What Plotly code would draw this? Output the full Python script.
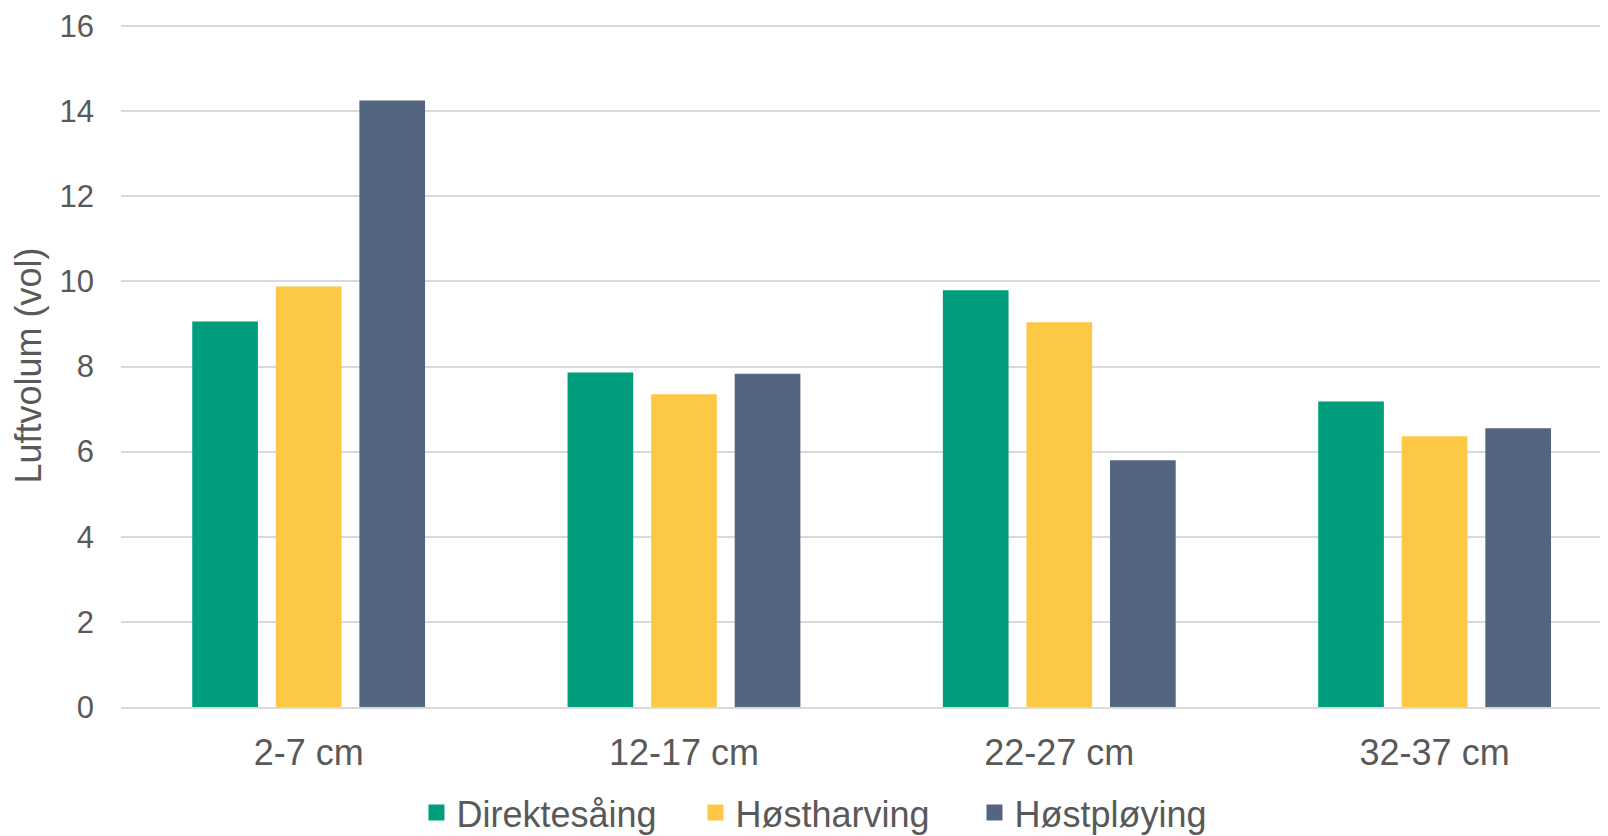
import plotly.graph_objects as go

categories = ["2-7 cm", "12-17 cm", "22-27 cm", "32-37 cm"]
series_names = ["Direktesåing", "Høstharving", "Høstpløying"]
direktesaing = [9.06, 7.86, 9.79, 7.18]
hostharving = [9.88, 7.35, 9.04, 6.36]
hostploying = [14.25, 7.83, 5.80, 6.55]
y_ticks = [0, 2, 4, 6, 8, 10, 12, 14, 16]
colors = ["#009E7D", "#FDC844", "#546580"]

# page body has an 8px default margin, so the figure is 8px smaller
W, H = 1600, 828
left, right, top, bottom = 113, 0, 16, 129

fig = go.Figure()
for name, vals, c in zip(series_names, [direktesaing, hostharving, hostploying], colors):
    fig.add_trace(go.Bar(x=categories, y=vals, name=name, showlegend=False,
                         marker=dict(color=c, line=dict(width=0))))
# legend entries with larger square swatches
for name, c in zip(series_names, colors):
    fig.add_trace(go.Scatter(x=[None], y=[None], mode="markers", name=name,
                             marker=dict(symbol="square", size=19, color=c)))

font = "Liberation Sans, Arial, sans-serif"
fig.update_layout(
    width=W, height=H,
    margin=dict(l=left, r=right, t=top, b=bottom, pad=0, autoexpand=False),
    paper_bgcolor="white", plot_bgcolor="white",
    barmode="group", bargap=0.332, bargroupgap=0.214,
    font=dict(family=font, size=36, color="#595959"),
    showlegend=True,
    legend=dict(orientation="h", x=0.1987, xanchor="left", y=-0.1546, yanchor="middle",
                font=dict(size=36, color="#595959"), itemwidth=30, traceorder="normal",
                entrywidth=234, entrywidthmode="pixels",
                bgcolor="rgba(0,0,0,0)"),
    xaxis=dict(type="category", range=[-0.5, 3.462], showgrid=False, showline=True,
               linecolor="#d9d9d9", linewidth=2, ticks="", ticklabelstandoff=13,
               tickfont=dict(size=36, color="#595959")),
    yaxis=dict(range=[0, 16.047], tickvals=y_ticks, showgrid=True, gridcolor="#d9d9d9",
               gridwidth=1.5, zeroline=False, showline=False, ticks="",
               ticklabelstandoff=26, tickfont=dict(size=31, color="#595959"),
               title=dict(text="Luftvolum (vol)", font=dict(size=36, color="#595959"), standoff=6)),
)
fig.write_html("out.html")
